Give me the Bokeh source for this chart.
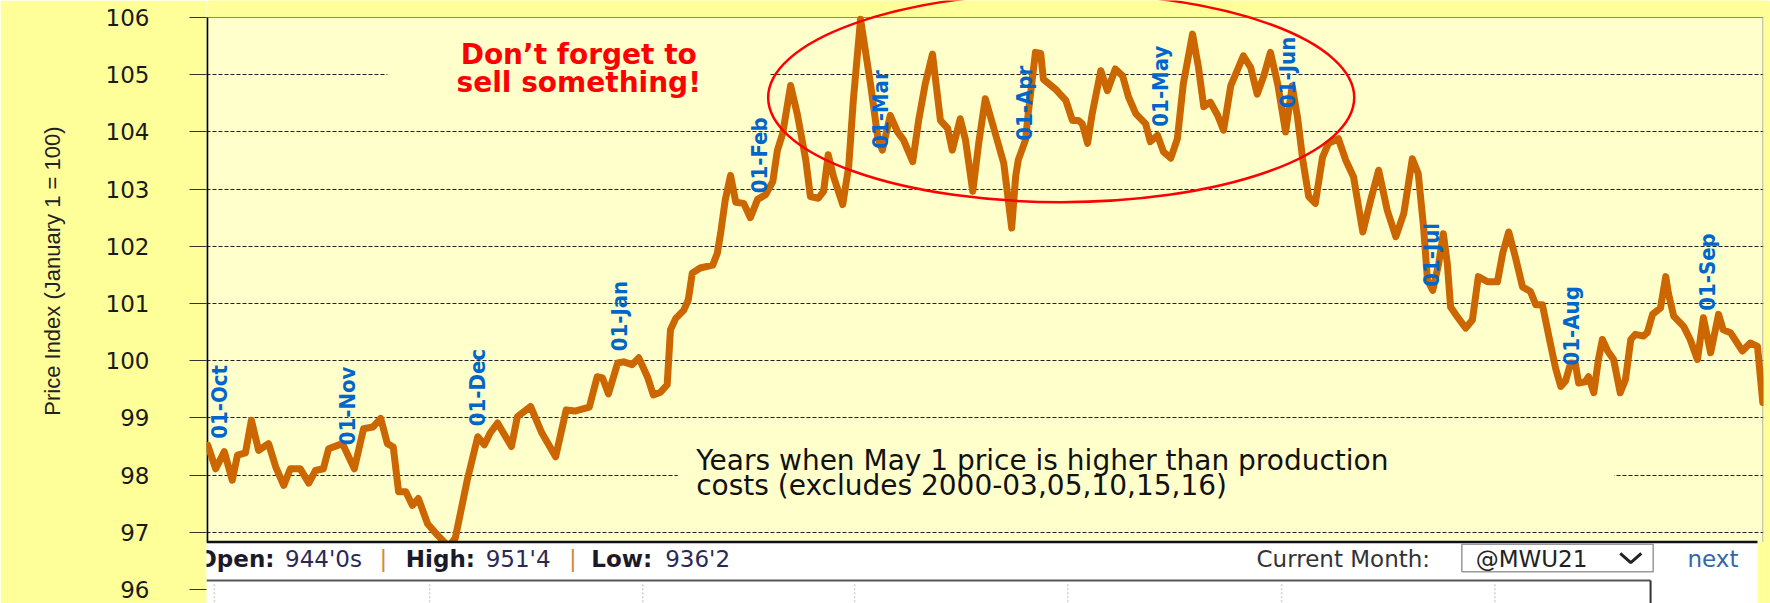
import math
from bokeh.plotting import figure
from bokeh.models import Range1d, FixedTicker, ColumnDataSource, LabelSet, Title
from bokeh.core.properties import value
from bokeh.embed import file_html
from bokeh.resources import INLINE

# ---------------- data ----------------
# x: trading-session index counted from 1 October; y: price index (Jan 1 = 100)
session_day = [
    0.2, 1.4, 2.7, 3.9, 4.7, 5.9, 6.8, 7.9, 9.4, 10.5,
    11.7, 12.7, 14.2, 15.5, 16.5, 17.7, 18.5, 20.6, 22.4, 23.8,
    25.2, 26.4, 27.4, 28.3, 29.1, 30.2, 31.2, 32.1, 33.5, 35.0,
    36.7, 37.7, 39.5, 41.1, 42.1, 43.0, 44.1, 46.2, 47.1, 49.1,
    50.8, 52.9, 54.5, 55.8, 58.0, 59.2, 60.0, 60.9, 62.3, 63.2,
    64.5, 65.5, 66.8, 67.7, 68.8, 69.8, 70.3, 71.1, 72.3, 73.0,
    73.6, 74.8, 76.7, 77.4, 77.9, 78.6, 79.4, 80.2, 81.4, 82.4,
    83.5, 84.7, 85.8, 86.5, 87.3, 88.5, 89.5, 90.8, 91.5, 92.7,
    93.5, 94.2, 95.0, 96.4, 97.3, 98.0, 99.1, 100.6, 101.7, 102.4,
    103.6, 104.7, 105.6, 107.0, 107.9, 108.9, 110.0, 111.2, 112.3, 113.0,
    114.2, 115.0, 116.1, 117.0, 118.0, 119.1, 120.8, 122.0, 122.6, 123.0,
    124.1, 124.5, 125.6, 126.4, 126.8, 128.6, 130.2, 131.2, 132.1, 132.7,
    133.5, 134.2, 135.5, 136.5, 137.7, 138.8, 139.7, 140.8, 142.3, 143.0,
    144.1, 145.0, 146.1, 147.1, 148.0, 149.4, 150.3, 151.1, 152.1, 153.2,
    154.1, 155.2, 157.1, 158.2, 159.2, 160.2, 161.2, 162.3, 163.5, 164.5,
    165.3, 166.1, 167.0, 168.0, 169.1, 170.0, 171.5, 172.6, 173.8, 175.2,
    176.4, 177.6, 178.9, 180.2, 181.4, 182.7, 183.6, 184.4, 185.0, 185.8,
    186.7, 187.4, 188.0, 188.5, 189.5, 190.8, 191.8, 192.7, 194.1, 195.6,
    196.4, 197.3, 198.3, 199.4, 200.6, 201.4, 202.4, 203.6, 204.4, 205.2,
    205.9, 206.7, 207.4, 207.9, 208.9, 209.4, 210.2, 210.9, 211.5, 212.3,
    213.2, 214.2, 215.0, 215.8, 216.5, 217.7, 218.3, 219.1, 220.3, 221.1,
    221.5, 222.3, 223.8, 224.8, 225.9, 226.8, 227.9, 229.1, 229.8, 230.9,
    232.7, 233.9, 235.0, 235.8,
]
price_index = [
    98.52, 98.11, 98.41, 97.91, 98.35, 98.39, 98.96, 98.43, 98.55, 98.14,
    97.82, 98.11, 98.11, 97.86, 98.08, 98.11, 98.46, 98.55, 98.11, 98.81,
    98.84, 98.99, 98.55, 98.49, 97.71, 97.71, 97.47, 97.59, 97.15, 96.95,
    96.75, 96.90, 97.91, 98.67, 98.53, 98.74, 98.91, 98.50, 99.02, 99.20,
    98.74, 98.32, 99.14, 99.12, 99.19, 99.72, 99.70, 99.42, 99.96, 99.98,
    99.93, 100.05, 99.72, 99.40, 99.45, 99.58, 100.54, 100.74, 100.88, 101.06,
    101.53, 101.62, 101.67, 101.88, 102.23, 102.81, 103.24, 102.77, 102.75, 102.50,
    102.82, 102.90, 103.13, 103.68, 103.97, 104.81, 104.32, 103.51, 102.87, 102.84,
    102.96, 103.60, 103.22, 102.73, 103.39, 104.55, 105.97, 104.84, 103.91, 103.68,
    104.29, 104.00, 103.86, 103.48, 104.20, 104.84, 105.36, 104.20, 104.06, 103.68,
    104.23, 103.86, 102.96, 103.80, 104.58, 104.14, 103.45, 102.32, 103.22, 103.51,
    103.86, 104.32, 105.39, 105.37, 104.92, 104.75, 104.55, 104.20, 104.20, 104.14,
    103.80, 104.32, 105.07, 104.72, 105.10, 104.98, 104.61, 104.32, 104.14, 103.83,
    103.94, 103.65, 103.54, 103.88, 104.84, 105.71, 105.13, 104.44, 104.52, 104.29,
    104.03, 104.81, 105.33, 105.13, 104.66, 104.98, 105.39, 104.84, 104.00, 104.80,
    104.26, 103.51, 102.87, 102.75, 103.56, 103.80, 103.88, 103.51, 103.21, 102.25,
    102.81, 103.33, 102.63, 102.17, 102.57, 103.53, 103.27, 102.34, 101.41, 101.23,
    101.70, 102.22, 101.70, 100.94, 100.77, 100.57, 100.71, 101.47, 101.38, 101.38,
    101.88, 102.25, 101.82, 101.29, 101.21, 100.98, 100.98, 100.31, 99.87, 99.55,
    99.64, 99.96, 99.95, 99.61, 99.63, 99.72, 99.44, 100.02, 100.37, 100.17,
    100.02, 99.44, 99.67, 100.37, 100.46, 100.43, 100.49, 100.81, 100.92, 101.47,
    101.18, 100.78, 100.60, 100.37, 100.02, 100.75, 100.14, 100.81, 100.54, 100.49,
    100.17, 100.31, 100.25, 99.27,
]
month_labels = ["01-Oct", "01-Nov", "01-Dec", "01-Jan", "01-Feb", "01-Mar",
                "01-Apr", "01-May", "01-Jun", "01-Jul", "01-Aug", "01-Sep"]
month_label_x = [1.9, 21.4, 41.1, 62.6, 83.8, 102.1, 123.9, 144.5, 163.8, 185.6, 206.8, 227.4]
month_label_y = [99.28, 99.21, 99.53, 100.78, 103.59, 104.39, 104.50, 104.80, 105.04, 101.85, 100.61, 101.55]
y_ticks = [96, 97, 98, 99, 100, 101, 102, 103, 104, 105, 106]
grid_levels = [97, 98, 99, 100, 101, 102, 103, 104, 105]

# ---------------- figure ----------------
X_END = 235.91
p = figure(width=1770, height=603,
           x_range=Range1d(0, X_END), y_range=Range1d(95.755, 106.297),
           output_backend="svg", toolbar_location=None,
           min_border_left=206, min_border_right=7, min_border_top=0, min_border_bottom=0)
p.background_fill_color = "#FFFFCC"
p.border_fill_color = "#FFFF99"
p.outline_line_color = None
p.xaxis.visible = False
p.xgrid.visible = False
p.ygrid.ticker = FixedTicker(ticks=grid_levels)
p.ygrid.grid_line_color = "#222222"
p.ygrid.grid_line_dash = "4 2"
p.ygrid.grid_line_width = 1

yax = p.yaxis[0]
yax.ticker = FixedTicker(ticks=y_ticks)
yax.axis_line_color = None
yax.major_tick_out = 17
yax.major_tick_in = 0
yax.minor_tick_line_color = None
yax.major_tick_line_color = "#333333"
yax.major_tick_line_width = 1
yax.major_label_standoff = 40
yax.major_label_text_font = "DejaVu Sans"
yax.major_label_text_font_size = "23px"
yax.major_label_text_color = "#1a1a1a"

# y-axis title in the left border, top end placed like the original
p.add_layout(Title(text="Price Index (January 1 = 100)", align="right", offset=126,
                   standoff=75, vertical_align="bottom",
                   text_font="Liberation Sans", text_font_size="22px",
                   text_font_style="normal", text_color="#222222"), "left")

# yellow band above the plot area, borders
p.quad(left=0, right=X_END, bottom=106, top=106.5, fill_color="#FFFF99", line_color=None)
p.line([0, X_END], [106, 106], line_color="#888888", line_width=1)
p.line([X_END - 0.08, X_END - 0.08], [96.83, 106], line_color="#999999", line_width=1)
p.line([0.12, 0.12], [96.83, 106], line_color="#000000", line_width=2)

# annotation boxes (hide gridlines behind the texts)
p.quad(left=27.4, right=85.3, bottom=104.62, top=105.75, fill_color="#FFFFCC", line_color=None)
p.quad(left=71.4, right=213.3, bottom=97.48, top=98.55, fill_color="#FFFFCC", line_color=None)

# the price line
p.line(session_day, price_index, line_color="#CC6600", line_width=7,
       line_join="round", line_cap="round")

# red ellipse
p.ellipse(x=129.5, y=104.60, width=88.8, height=3.66, fill_color=None,
          line_color="#FF0000", line_width=2.5)

# texts
p.text(x=[56.4, 56.4], y=[105.35, 104.87], text=["Don\u2019t forget to", "sell something!"],
       text_font=value("DejaVu Sans"), text_font_style="bold", text_font_size=value("28px"),
       text_color="#FF0000", text_align="center", text_baseline="middle")
p.text(x=[74.2, 74.2], y=[98.25, 97.81],
       text=["Years when May 1 price is higher than production",
             "costs (excludes 2000-03,05,10,15,16)"],
       text_font=value("DejaVu Sans"), text_font_size=value("28px"),
       text_color="#111111", text_align="left", text_baseline="middle")

# quote strip overlaying the bottom
p.quad(left=0, right=235.0, bottom=95.5, top=96.83, fill_color="#FFFFFF", line_color=None)
p.quad(left=235.0, right=X_END, bottom=95.5, top=96.83, fill_color="#FFFF99", line_color=None)
p.line([0, 235.0], [96.83, 96.83], line_color="#111111", line_width=2.5)
p.line([0, 218.8], [96.157, 96.157], line_color="#555555", line_width=2)
p.line([218.8, 218.8], [96.157, 95.6], line_color="#333333", line_width=2)
for xd in [1.2, 33.8, 66.1, 98.2, 130.5, 162.9, 195.2]:
    p.line([xd, xd], [96.09, 95.6], line_color="#d0d0d0", line_width=1.5, line_dash="2 2")

row_y = 96.54
p.text(x=[-1.4, 30.2, 58.3], y=[row_y] * 3, text=["Open:", "High:", "Low:"],
       text_font=value("DejaVu Sans"), text_font_style="bold", text_font_size=value("23px"),
       text_color="#1a1a2a", text_align="left", text_baseline="middle")
p.text(x=[11.9, 42.3, 69.5], y=[row_y] * 3, text=["944'0s", "951'4", "936'2"],
       text_font=value("DejaVu Sans"), text_font_size=value("23px"),
       text_color="#2a2a55", text_align="left", text_baseline="middle")
p.text(x=[26.8, 55.5], y=[row_y] * 2, text=["|", "|"],
       text_font=value("DejaVu Sans"), text_font_size=value("23px"),
       text_color="#d08a3a", text_align="center", text_baseline="middle")
p.text(x=[159.1], y=[row_y], text=["Current Month:"],
       text_font=value("DejaVu Sans"), text_font_size=value("23px"),
       text_color="#333333", text_align="left", text_baseline="middle")
p.quad(left=190.2, right=219.2, bottom=96.31, top=96.79, fill_color="#FFFFFF",
       line_color="#999999", line_width=1.5)
p.text(x=[192.3], y=[row_y], text=["@MWU21"],
       text_font=value("DejaVu Sans"), text_font_size=value("23px"),
       text_color="#222222", text_align="left", text_baseline="middle")
p.line([214.2, 215.8, 217.4], [96.63, 96.47, 96.63], line_color="#222222", line_width=3)
p.text(x=[224.4], y=[row_y], text=["next"],
       text_font=value("DejaVu Sans"), text_font_size=value("23px"),
       text_color="#3366AA", text_align="left", text_baseline="middle")

# month labels
msrc = ColumnDataSource(dict(x=month_label_x, y=month_label_y, t=month_labels))
p.add_layout(LabelSet(x="x", y="y", text="t", source=msrc, angle=math.pi / 2,
                      text_align="center", text_baseline="middle",
                      text_font=value("Liberation Sans Narrow, DejaVu Sans Condensed, Liberation Sans"),
                      text_font_style="bold",
                      text_font_size=value("22px"), text_color="#0066CC"))

open("out.html", "w").write(file_html(p, INLINE))
